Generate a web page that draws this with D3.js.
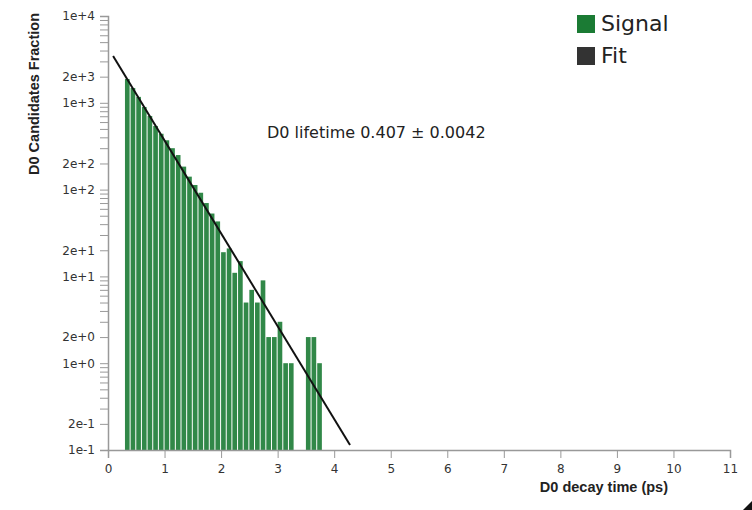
<!DOCTYPE html>
<html>
<head>
<meta charset="utf-8">
<script src="https://cdn.jsdelivr.net/npm/d3@7.9.0/dist/d3.min.js"></script>
<style>
  body { margin: 0; background: #fff; }
  svg { display: block; }
  .axis text { font-family: "DejaVu Sans", sans-serif; font-size: 12px; fill: #333; }
  .axis path, .axis line { stroke: #999; }
  .title { font-family: "Liberation Sans", Arial, sans-serif; font-size: 14.5px; font-weight: bold; fill: #222; }
</style>
</head>
<body>
<svg id="chart" width="752" height="510"></svg>
<script>
// histogram bins (left edge, ps) and counts
const binStarts = [0.3, 0.4, 0.5, 0.6, 0.7, 0.8, 0.9, 1.0, 1.1, 1.2, 1.3, 1.4, 1.5, 1.6, 1.7, 1.8, 1.9,
  2.0, 2.1, 2.2, 2.3, 2.4, 2.5, 2.6, 2.7, 2.8, 2.9, 3.0, 3.1, 3.2, 3.3, 3.4, 3.5, 3.6, 3.7];
const signalCounts = [1880, 1480, 1170, 895, 705, 541, 440, 370, 300, 250, 184, 141, 113, 92, 70, 53, 43,
  19, 21, 11, 15, 5, 7, 5, 9, 2, 2, 3, 1, 1, 0, 0, 2, 2, 1];
const binWidth = 0.1;

// fit line end points
const fitTimes = [0.09, 4.28];
const fitValues = [3460, 0.114];

const xTicks = [0, 1, 2, 3, 4, 5, 6, 7, 8, 9, 10, 11];
const legendLabels = ['Signal', 'Fit'];
const legendColors = ['#1b7b34', '#333333'];
const lifetimeText = 'D0 lifetime 0.407 \u00b1 0.0042';

const svg = d3.select('#chart');

const x = d3.scaleLinear().domain([0, 11]).range([108, 730]);
const y = d3.scaleLog().domain([0.1, 1e4]).range([450, 16]);

const bins = binStarts.map((t, i) => ({ t0: t, t1: t + binWidth, v: signalCounts[i] }))
  .filter(d => d.v > 0);

svg.append('g')
  .selectAll('rect')
  .data(bins)
  .join('rect')
  .attr('x', d => x(d.t0))
  .attr('y', d => y(d.v))
  .attr('width', d => x(d.t1) - x(d.t0) - 1)
  .attr('height', d => y(0.1) - y(d.v))
  .attr('fill', legendColors[0])
  .attr('fill-opacity', 0.9);

const fit = fitTimes.map((t, i) => [t, fitValues[i]]);
svg.append('path')
  .datum(fit)
  .attr('fill', 'none')
  .attr('stroke', '#111')
  .attr('stroke-width', 2)
  .attr('d', d3.line().x(d => x(d[0])).y(d => y(d[1])));

svg.append('g')
  .attr('class', 'axis')
  .attr('transform', 'translate(108,0)')
  .call(d3.axisLeft(y).ticks(10, '.0e').tickSize(8).tickPadding(5))
  .call(g => g.select('.domain').attr('stroke-width', 1.5));

svg.append('g')
  .attr('class', 'axis')
  .attr('transform', 'translate(0,450)')
  .call(d3.axisBottom(x).tickValues(xTicks).tickFormat(d3.format('d')).tickSize(8).tickPadding(6))
  .call(g => g.select('.domain').attr('stroke-width', 1.5));

svg.append('text')
  .attr('class', 'title')
  .attr('transform', 'translate(39,13) rotate(-90)')
  .attr('text-anchor', 'end')
  .text('D0 Candidates Fraction');

svg.append('text')
  .attr('class', 'title')
  .attr('x', 668)
  .attr('y', 492)
  .attr('text-anchor', 'end')
  .text('D0 decay time (ps)');

svg.append('text')
  .attr('x', 267)
  .attr('y', 138)
  .attr('font-family', '"DejaVu Sans", sans-serif')
  .attr('font-size', 16)
  .attr('fill', '#222')
  .text(lifetimeText);

const legend = svg.append('g')
  .selectAll('g')
  .data(legendLabels)
  .join('g')
  .attr('transform', (d, i) => `translate(577,${15 + i * 32})`);

legend.append('rect')
  .attr('width', 18)
  .attr('height', 18)
  .attr('fill', (d, i) => legendColors[i]);

legend.append('text')
  .attr('x', 24)
  .attr('y', 16)
  .attr('font-family', '"DejaVu Sans", sans-serif')
  .attr('font-size', 22)
  .attr('fill', '#222')
  .text(d => d);

// little resize handle in the corner
svg.append('path')
  .attr('d', 'M752,501L752,510L743,510Z')
  .attr('fill', '#111');
</script>
</body>
</html>
